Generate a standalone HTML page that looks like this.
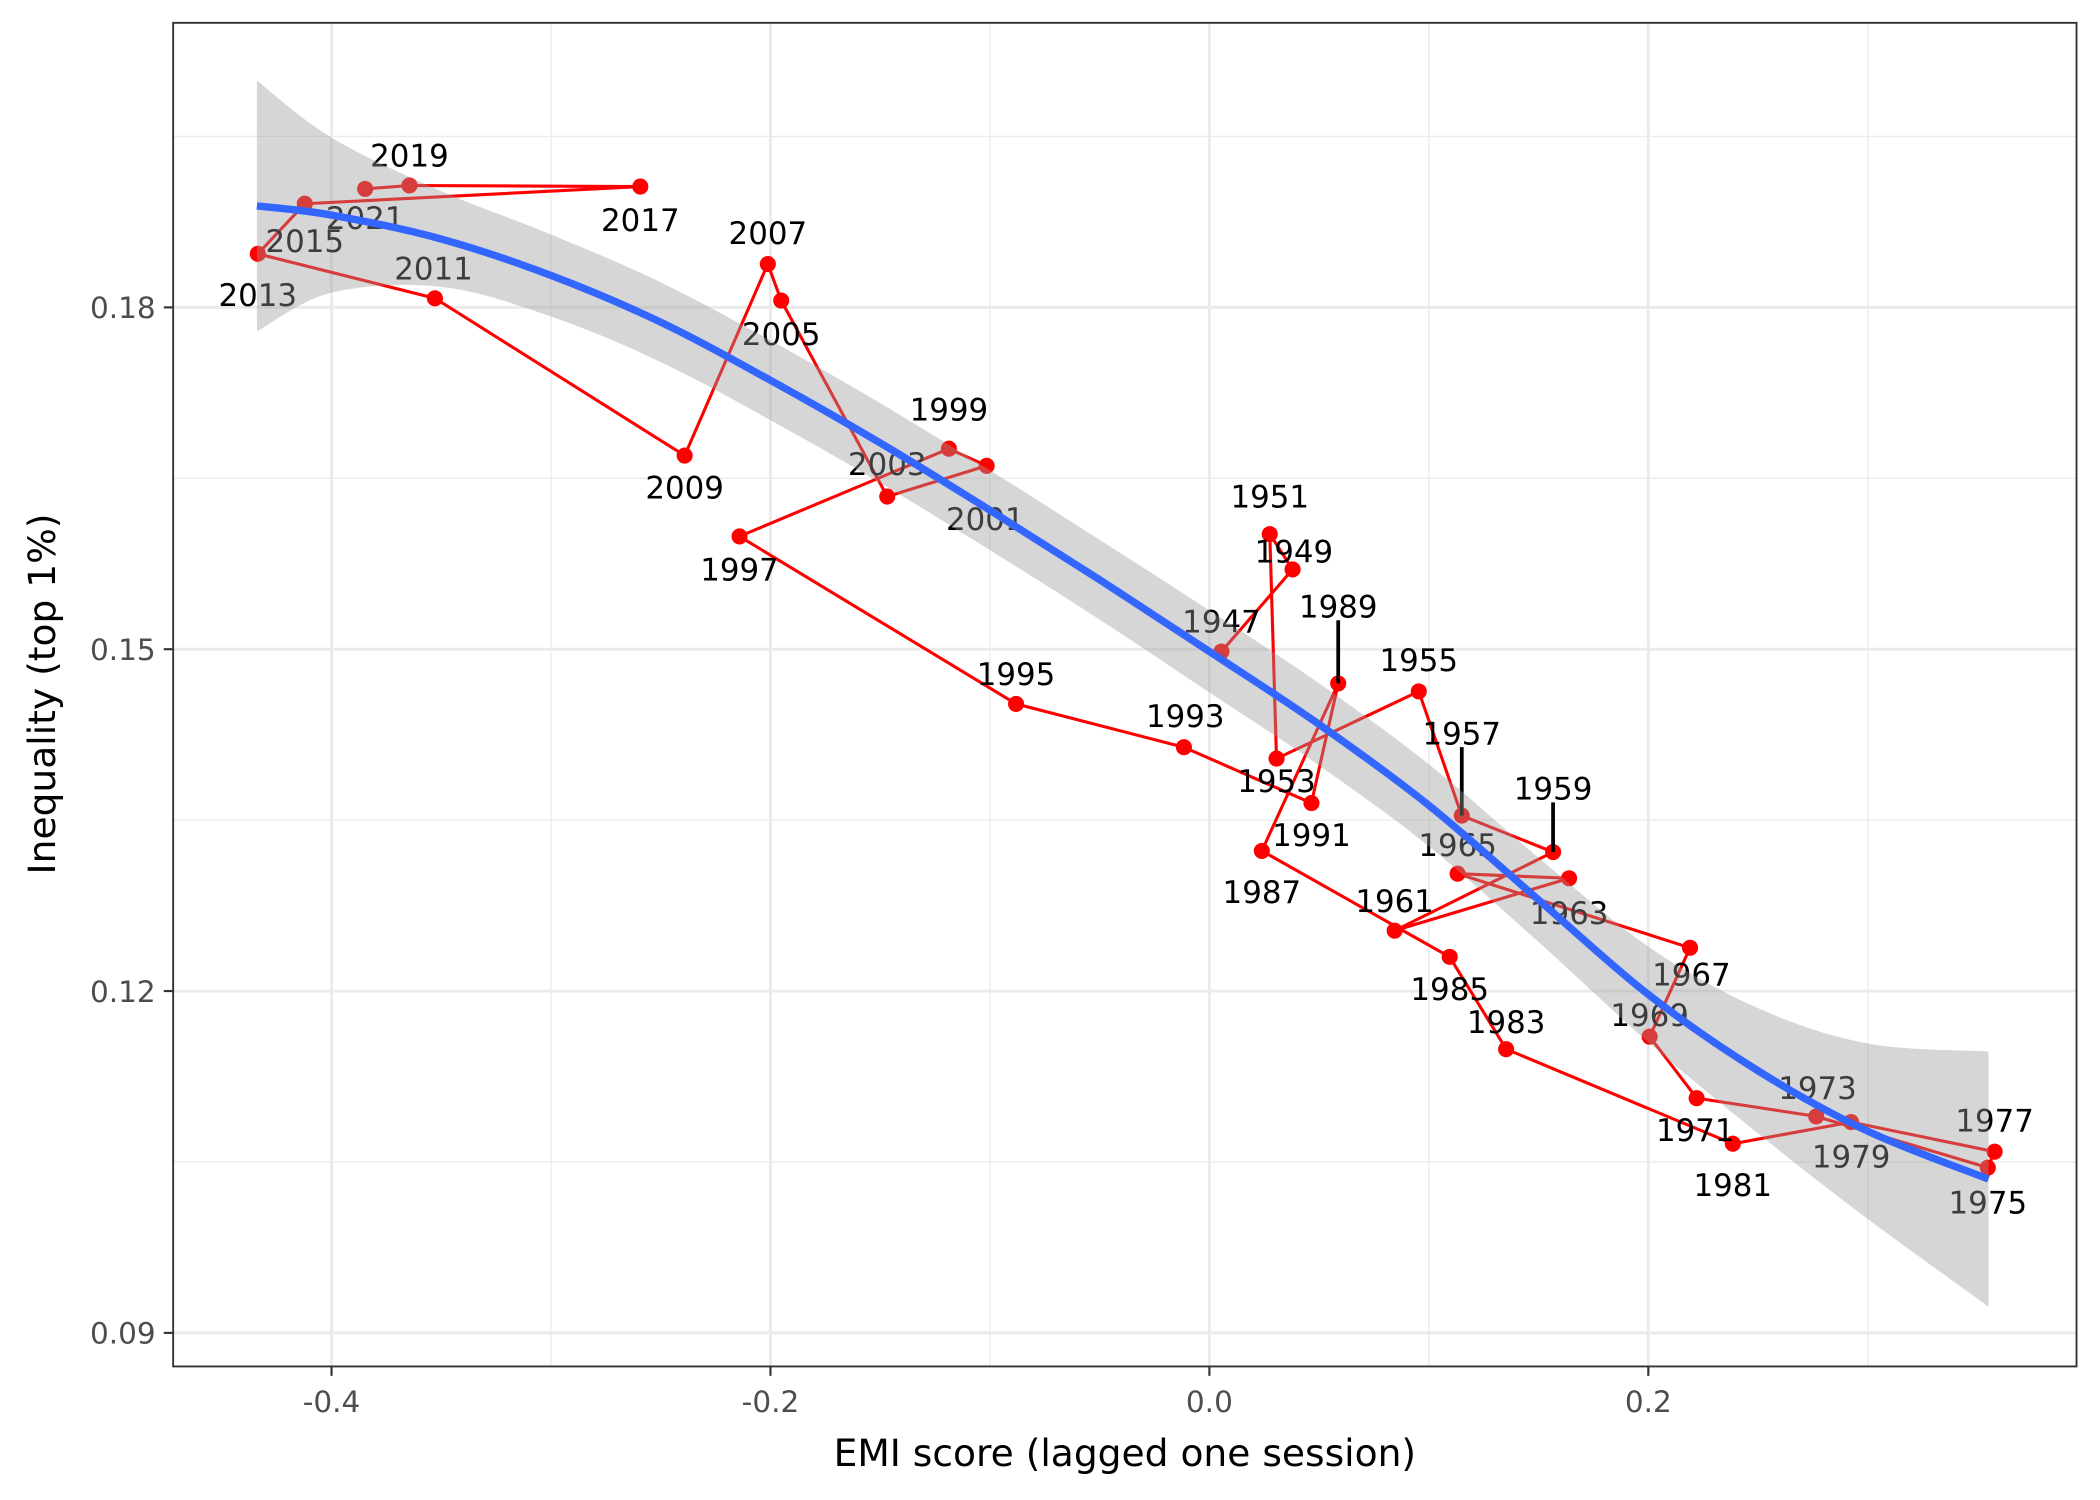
<!DOCTYPE html>
<html><head><meta charset="utf-8"><style>
html,body{margin:0;padding:0;background:#fff}
svg{display:block}
text{font-family:"DejaVu Sans","Liberation Sans",sans-serif}
</style></head><body>
<svg id="chart" width="2100" height="1500" viewBox="0 0 1564.5 1117.5" xmlns="http://www.w3.org/2000/svg">
<rect x="0" y="0" width="1564.5" height="1117.5" fill="#fff"/>
<g id="grid"></g>
<g id="paths"></g>
<g id="points"></g>
<g id="labels"></g>
<g id="band"></g>
<g id="fit"></g>
<rect x="129" y="17" width="1418" height="1001" fill="none" stroke="#333" stroke-width="1.4"/>
<g id="axes"></g>
<text x="838" y="1092" font-size="28" text-anchor="middle" fill="#000">EMI score (lagged one session)</text>
<text transform="translate(41,517) rotate(-90)" font-size="28" text-anchor="middle" fill="#000">Inequality (top 1%)</text>
</svg>
<script>
const years = [1947,1949,1951,1953,1955,1957,1959,1961,1963,1965,1967,1969,1971,1973,1975,1977,1979,1981,1983,1985,1987,1989,1991,1993,1995,1997,1999,2001,2003,2005,2007,2009,2011,2013,2015,2017,2019,2021];
const emi = [0.0055,0.0379,0.0275,0.0306,0.0954,0.1150,0.1566,0.0844,0.1639,0.1131,0.2190,0.2006,0.2220,0.2765,0.3547,0.3578,0.2924,0.2385,0.1352,0.1095,0.0239,0.0587,0.0465,-0.0116,-0.0881,-0.2141,-0.1187,-0.1015,-0.1468,-0.1951,-0.2012,-0.2391,-0.3529,-0.4336,-0.4122,-0.2593,-0.3645,-0.3847];
const ineq = [0.1498,0.1570,0.1601,0.1404,0.1463,0.1354,0.1322,0.1253,0.1299,0.1303,0.1238,0.1160,0.1106,0.1090,0.1045,0.1059,0.1085,0.1066,0.1149,0.1230,0.1323,0.1470,0.1365,0.1414,0.1452,0.1599,0.1676,0.1661,0.1634,0.1806,0.1838,0.1670,0.1808,0.1847,0.1891,0.1906,0.1907,0.1904];
const fitX = [-0.434,-0.4,-0.35,-0.3,-0.25,-0.2,-0.15,-0.1,-0.05,0,0.05,0.1,0.15,0.2,0.25,0.3,0.355];
const fitY = [0.1889,0.1881,0.1860,0.1828,0.1787,0.1736,0.1681,0.1622,0.1561,0.1498,0.1434,0.1363,0.1280,0.1197,0.1130,0.1077,0.1035];
const fitSE = [0.0110,0.0068,0.0042,0.0036,0.0035,0.0035,0.0035,0.0035,0.0035,0.0036,0.0036,0.0036,0.0037,0.0042,0.0055,0.0077,0.0112];
const xTicks = [-0.4,-0.2,0.0,0.2];
const xTickLabels = ["-0.4","-0.2","0.0","0.2"];
const yTicks = [0.09,0.12,0.15,0.18];
const yTickLabels = ["0.09","0.12","0.15","0.18"];
const xMinor = [-0.3,-0.1,0.1,0.3];
const yMinor = [0.105,0.135,0.165,0.195];
// label offsets (px): [dx, dy] of label baseline center relative to point
const labelOff = {1947:[0,-14],1949:[1,-5],1951:[0,-20],1953:[0,25],1955:[0,-15],1957:[0,-53],1959:[0,-39],1961:[0,-14],1963:[0,34],1965:[0,-13],1967:[1,28],1969:[0,-8],1971:[-1,32],1973:[1,-13],1975:[0,34],1977:[0,-15],1979:[0,34],1981:[0,39],1983:[0,-12],1985:[0,32],1987:[0,39],1989:[0,-49],1991:[0,32],1993:[1,-15],1995:[0,-14],1997:[0,33],1999:[0,-21],2001:[-1,48],2003:[0,-16],2005:[0,33],2007:[0,-15],2009:[0,32],2011:[-1,-14],2013:[0,39],2015:[0,36],2017:[0,33],2019:[0,-14],2021:[0,30]};
const leaders = [1957,1959,1989];

const NS="http://www.w3.org/2000/svg";
function X(v){return 901+v*1635;}
function Y(v){return 993-(v-0.09)*8488.9;}
function mk(tag,attrs,parent){const e=document.createElementNS(NS,tag);for(const k in attrs)e.setAttribute(k,attrs[k]);parent.appendChild(e);return e;}
function spline(P,start){let s=start?('M'+P[0][0]+','+P[0][1]):(' L'+P[0][0]+','+P[0][1]);
for(let i=0;i<P.length-1;i++){const p0=P[Math.max(0,i-1)],p1=P[i],p2=P[i+1],p3=P[Math.min(P.length-1,i+2)];
s+=' C'+(p1[0]+(p2[0]-p0[0])/6)+','+(p1[1]+(p2[1]-p0[1])/6)+' '+(p2[0]-(p3[0]-p1[0])/6)+','+(p2[1]-(p3[1]-p1[1])/6)+' '+p2[0]+','+p2[1];}
return s;}
const grid=document.getElementById('grid');
xMinor.forEach(v=>{const l=mk('line',{x1:X(v),x2:X(v),y1:17,y2:1018,stroke:'#ebebeb','stroke-width':1},grid);

});
yMinor.forEach(v=>{const l=mk('line',{x1:129,x2:1547,y1:Y(v),y2:Y(v),stroke:'#ebebeb','stroke-width':1},grid);

});
xTicks.forEach(v=>{const l=mk('line',{x1:X(v),x2:X(v),y1:17,y2:1018,stroke:'#ebebeb','stroke-width':2.2},grid);

});
yTicks.forEach(v=>{const l=mk('line',{x1:129,x2:1547,y1:Y(v),y2:Y(v),stroke:'#ebebeb','stroke-width':2.2},grid);

});

const paths=document.getElementById('paths');
let d=years.map((y,i)=>(i?'L':'M')+X(emi[i]).toFixed(1)+','+Y(ineq[i]).toFixed(1)).join(' ');
const pl=mk('path',{d:d,fill:'none',stroke:'#ff0000','stroke-width':2.3,'stroke-linejoin':'round'},paths);



const pts=document.getElementById('points');
years.forEach((y,i)=>{const c=mk('circle',{cx:X(emi[i]),cy:Y(ineq[i]),r:6,fill:'#ff0000'},pts);

});

const labs=document.getElementById('labels');
leaders.forEach(y=>{const i=years.indexOf(y);const o=labelOff[y];
const l=mk('line',{x1:X(emi[i]),x2:X(emi[i]),y1:Y(ineq[i]),y2:Y(ineq[i])+o[1]+2,stroke:'#000','stroke-width':2.8},labs);

});
years.forEach((y,i)=>{const o=labelOff[y];
const t=mk('text',{x:X(emi[i])+o[0],y:Y(ineq[i])+o[1],'font-size':23,'text-anchor':'middle',fill:'#000'},labs);
t.textContent=String(y);

});

const band=document.getElementById('band');
const up=fitX.map((x,i)=>[X(x),Y(fitY[i]+fitSE[i])]);
const lo=fitX.map((x,i)=>[X(x),Y(fitY[i]-fitSE[i])]).reverse();
const bd=spline(up,true)+spline(lo,false)+' Z';
const bp=mk('path',{d:bd,fill:'#999999','fill-opacity':0.4,stroke:'none'},band);



const fit=document.getElementById('fit');
const P=fitX.map((x,i)=>[X(x),Y(fitY[i])]);
const fp=mk('path',{d:spline(P,true),fill:'none',stroke:'#3366ff','stroke-width':5.5},fit);



const axes=document.getElementById('axes');
xTicks.forEach((v,i)=>{const l=mk('line',{x1:X(v),x2:X(v),y1:1018,y2:1025,stroke:'#333','stroke-width':1.6},axes);


const t=mk('text',{x:X(v),y:1052,'font-size':22,'text-anchor':'middle',fill:'#4d4d4d'},axes);
t.textContent=xTickLabels[i];

});
yTicks.forEach((v,i)=>{const l=mk('line',{x1:122,x2:129,y1:Y(v),y2:Y(v),stroke:'#333','stroke-width':1.6},axes);


const t=mk('text',{x:116,y:Y(v)+8,'font-size':22,'text-anchor':'end',fill:'#4d4d4d'},axes);
t.textContent=yTickLabels[i];

});
</script>
</body></html>
